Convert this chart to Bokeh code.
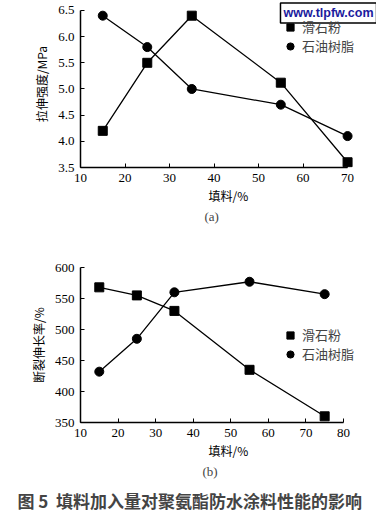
from bokeh.plotting import figure
from bokeh.models import Range1d, Legend, LegendItem, Label, Title, FixedTicker, NumeralTickFormatter
from bokeh.layouts import column
from bokeh.embed import file_html
from bokeh.resources import INLINE

# ---- data (a) ----
a_x_talc = [15, 25, 35, 55, 70]
a_talc = [4.2, 5.5, 6.4, 5.12, 3.6]
a_x_resin = [15, 25, 35, 55, 70]
a_resin = [6.4, 5.8, 5.0, 4.7, 4.1]
a_xticks = [10, 20, 30, 40, 50, 60, 70]
a_yticks = [3.5, 4.0, 4.5, 5.0, 5.5, 6.0, 6.5]

# ---- data (b) ----
b_x_talc = [15, 25, 35, 55, 75]
b_talc = [568, 555, 530, 435, 360]
b_x_resin = [15, 25, 35, 55, 75]
b_resin = [432, 485, 560, 577, 557]
b_xticks = [10, 20, 30, 40, 50, 60, 70, 80]
b_yticks = [350, 400, 450, 500, 550, 600]

names = ["滑石粉", "石油树脂"]
xlabel = "填料/%"
ylabel_a = "拉伸强度/MPa"
ylabel_b = "断裂伸长率/%"
caption = "图\u00a05\u00a0\u00a0填料加入量对聚氨酯防水涂料性能的影响"

CJK = "Noto Sans CJK SC"
NUM = "Liberation Serif"


def style(p, xticks, yticks, ylabel, xbounds, ybounds, yfmt):
    p.outline_line_color = None
    p.xgrid.visible = False
    p.ygrid.visible = False
    for ax in (p.xaxis[0], p.yaxis[0]):
        ax.axis_line_width = 1.5
        ax.axis_line_color = "black"
        ax.major_tick_in = 4
        ax.major_tick_out = 0
        ax.major_tick_line_color = "black"
        ax.minor_tick_line_color = None
        ax.major_label_text_font = NUM
        ax.major_label_text_font_size = "13px"
        ax.major_label_text_color = "black"
        ax.axis_label_text_font = CJK
        ax.axis_label_text_font_size = "12px"
        ax.axis_label_text_font_style = "normal"
        ax.axis_label_text_color = "black"
    p.xaxis[0].ticker = FixedTicker(ticks=xticks)
    p.yaxis[0].ticker = FixedTicker(ticks=yticks)
    p.xaxis[0].bounds = xbounds
    p.yaxis[0].bounds = ybounds
    p.yaxis[0].formatter = NumeralTickFormatter(format=yfmt)
    p.xaxis[0].axis_label = xlabel
    p.yaxis[0].axis_label = ylabel
    p.xaxis[0].major_label_standoff = 6
    p.xaxis[0].axis_label_standoff = 2
    p.yaxis[0].major_label_standoff = 6
    p.yaxis[0].axis_label_standoff = 5


def series(p, xt, yt, xr, yr, lx, ly):
    p.line(xt, yt, line_color="black", line_width=1.3)
    p.line(xr, yr, line_color="black", line_width=1.3)
    s1 = p.scatter(xt, yt, marker="square", size=9, fill_color="black", line_color="black")
    s2 = p.scatter(xr, yr, marker="circle", size=9, fill_color="black", line_color="black")
    leg = Legend(items=[LegendItem(label=names[0], renderers=[s1]),
                        LegendItem(label=names[1], renderers=[s2])],
                 location=(lx, ly), padding=0, margin=0, spacing=0,
                 glyph_width=18, glyph_height=18, label_height=18,
                 label_standoff=3, label_text_font=CJK, label_text_font_size="13px",
                 border_line_alpha=0, background_fill_alpha=0)
    p.add_layout(leg)


# ---- figure (a) ----  frame spans to the top/right edges; axis lines stop at 70 / 6.5
fa = figure(width=376, height=230, output_backend="svg", toolbar_location=None,
            x_range=Range1d(10, 76.5), y_range=Range1d(3.5, 6.69),
            min_border_left=80, min_border_right=0, min_border_top=0, min_border_bottom=63)
style(fa, a_xticks, a_yticks, ylabel_a, (10, 70), (3.5, 6.5), "0.0")
series(fa, a_x_talc, a_talc, a_x_resin, a_resin, 201, 112)
fa.add_layout(Title(text="(a)", align="left", offset=124, text_font=NUM,
                    text_font_size="13px", text_font_style="normal", standoff=0), "below")
fa.add_layout(Label(x=248, y=154.5, x_units="screen", y_units="screen", text="www.tlpfw.com",
                    text_align="center", text_baseline="middle", text_color="#1b1b9e",
                    text_font="Liberation Sans", text_font_style="bold", text_font_size="12.5px",
                    border_line_color="black", border_line_width=1.5,
                    background_fill_color="white", padding=3))

# ---- figure (b) with caption ----
fb = figure(width=376, height=290, output_backend="svg", toolbar_location=None,
            x_range=Range1d(10, 88.8), y_range=Range1d(350, 600),
            min_border_left=80, min_border_right=0, min_border_top=37, min_border_bottom=98)
style(fb, b_xticks, b_yticks, ylabel_b, (10, 80), (350, 600), "0")
series(fb, b_x_talc, b_talc, b_x_resin, b_resin, 201, 59)
fb.add_layout(Title(text="(b)", align="left", offset=122, text_font=NUM,
                    text_font_size="13px", text_font_style="normal", standoff=0), "below")
fb.add_layout(Title(text=caption, align="left", offset=-63, text_font=CJK,
                    text_font_size="17px", text_font_style="bold", standoff=15), "below")

p = column(fa, fb, spacing=0)
open("out.html", "w").write(file_html(p, INLINE))
